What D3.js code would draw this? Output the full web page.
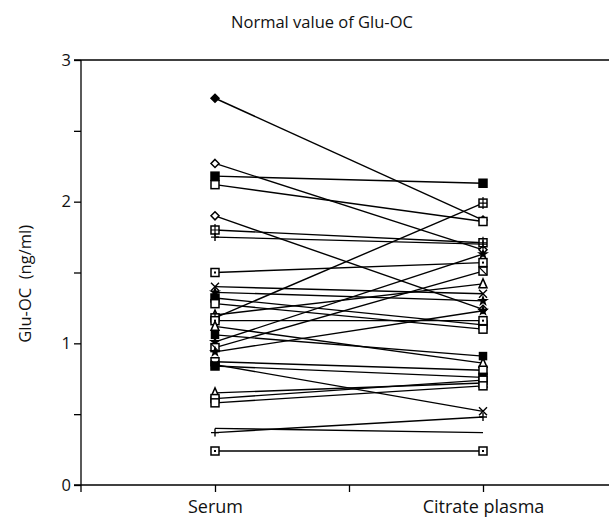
<!DOCTYPE html>
<html><head><meta charset="utf-8">
<script src="https://cdn.jsdelivr.net/npm/d3@7"></script>
<style>body{margin:0;background:#fff}svg{display:block}</style>
</head><body>
<svg id="c" width="609" height="518"></svg>
<script>
const groups = ["Serum", "Citrate plasma"];
const serum   = [2.73, 2.27, 2.18, 2.12, 1.90, 1.80, 1.75, 1.50, 1.40, 1.36, 1.32, 1.28, 1.20, 1.18, 1.16, 1.12, 1.06, 1.01, 0.97, 0.94, 0.87, 0.85, 0.84, 0.65, 0.61, 0.58, 0.40, 0.37, 0.24];
const citrate = [1.87, 1.66, 2.13, 1.86, 1.24, 1.71, 1.70, 1.57, 1.35, 1.30, 1.13, 1.10, 1.42, 1.99, 1.16, 0.86, 0.91, 1.63, 1.51, 1.23, 0.81, 0.52, 0.76, 0.72, 0.74, 0.70, 0.37, 0.48, 0.24];
const markers = ["fdiamond","odiamond","fsquare","osquare","odiamond","gsquare","plus","dsquare","cross","star","fsquare","osquare","triangle","gsquare","dsquare","triangle","fsmall","star","xsquare","star","osquare","cross","fsquare","triangle","osquare","osquare","none","plus","dsquare"];
const yTicks = [0, 0.5, 1, 1.5, 2, 2.5, 3];
const xTicks = [1, 1.5, 2];

const svg = d3.select("#c");
const font = "'Open Sans', 'DejaVu Sans', sans-serif";
const txt = "#111";
const x = d3.scaleLinear().domain([0.5, 2.5]).range([81, 617]);
const y = d3.scaleLinear().domain([0, 3]).range([485, 60]);

// top frame line
svg.append("line").attr("x1", 74).attr("x2", 609).attr("y1", y(3)).attr("y2", y(3))
  .attr("stroke", "#000").attr("stroke-width", 1.3);

const yAxis = d3.axisLeft(y).tickValues(yTicks).tickSize(7)
  .tickFormat(d => Number.isInteger(d) ? d : "");
const gy = svg.append("g").attr("transform", `translate(${x(0.5)},0)`).call(yAxis);
gy.select(".domain").attr("d", `M0,${y(3)}V${y(0) + 7}`).attr("stroke-width", 1.3);
gy.selectAll(".tick line").attr("stroke-width", 1.3);
gy.selectAll("text").attr("font-family", font).attr("font-size", 16.5).attr("fill", txt).attr("x", -10);

const xAxis = d3.axisBottom(x).tickValues(xTicks).tickSize(7)
  .tickFormat(d => d === 1 ? groups[0] : d === 2 ? groups[1] : "");
const gx = svg.append("g").attr("transform", `translate(0,${y(0)})`).call(xAxis);
gx.select(".domain").attr("d", `M74,0H609`).attr("stroke-width", 1.3);
gx.selectAll(".tick line").attr("stroke-width", 1.3);
gx.selectAll("text").attr("font-family", font).attr("font-size", 18).attr("fill", txt).attr("y", 11).attr("dy", "0.95em");

svg.append("text").attr("x", 322).attr("y", 28).attr("text-anchor", "middle")
  .attr("font-family", font).attr("font-size", 16.5).attr("fill", txt).text("Normal value of Glu-OC");

svg.append("text").attr("transform", `translate(31,${y(1.42)}) rotate(-90)`).attr("text-anchor", "middle")
  .attr("font-family", font).attr("font-size", 16.5).attr("fill", txt).text("Glu-OC\u00a0\u00a0(ng/ml)");

const data = serum.map((s, i) => ({s, c: citrate[i], m: markers[i]}));

svg.append("g").selectAll("line").data(data).join("line")
  .attr("x1", x(1)).attr("x2", x(2)).attr("y1", d => y(d.s)).attr("y2", d => y(d.c))
  .attr("stroke", "#000").attr("stroke-width", 1.4);

function drawMarker(g, type) {
  const r = 4;
  if (type === "none") return;
  if (type === "fdiamond" || type === "odiamond") {
    g.append("path").attr("d", `M0,${-r}L${r},0L0,${r}L${-r},0Z`)
      .attr("fill", type === "fdiamond" ? "#000" : "#fff").attr("stroke", "#000").attr("stroke-width", 1.5);
  } else if (["fsquare","osquare","dsquare","gsquare","xsquare","fsmall"].includes(type)) {
    const h = type === "fsmall" ? 3.5 : r;
    g.append("rect").attr("x", -h).attr("y", -h).attr("width", 2*h).attr("height", 2*h)
      .attr("fill", (type === "fsquare" || type === "fsmall") ? "#000" : "#fff").attr("stroke", "#000").attr("stroke-width", 1.5);
    if (type === "dsquare") g.append("rect").attr("x", -1).attr("y", -1).attr("width", 2).attr("height", 2).attr("fill", "#000");
    if (type === "gsquare") g.append("path").attr("d", `M0,${-r-2}V${r+2}M${-r},0H${r}`).attr("stroke", "#000").attr("stroke-width", 1.2);
    if (type === "xsquare") g.append("path").attr("d", `M${-r},${-r}L${r},${r}`).attr("stroke", "#000").attr("stroke-width", 1.2);
  } else if (type === "plus") {
    g.append("path").attr("d", `M0,${-r}V${r}M${-r},0H${r}`).attr("stroke", "#000").attr("stroke-width", 1.4);
  } else if (type === "cross") {
    g.append("path").attr("d", `M${-r},${-r}L${r},${r}M${-r},${r}L${r},${-r}`).attr("stroke", "#000").attr("stroke-width", 1.4);
  } else if (type === "triangle") {
    g.append("path").attr("d", `M0,${-r-1}L${r},${r}L${-r},${r}Z`).attr("fill", "#fff").attr("stroke", "#000").attr("stroke-width", 1.5);
  } else if (type === "star") {
    g.append("path").attr("d", d3.symbol(d3.symbolStar, 45)()).attr("fill", "#000");
  }
}

const mg = svg.append("g");
data.forEach(d => {
  [[1, d.s], [2, d.c]].forEach(([gx_, v]) => {
    const g = mg.append("g").attr("transform", `translate(${x(gx_)},${y(v)})`);
    drawMarker(g, d.m);
  });
});
</script>
</body></html>
